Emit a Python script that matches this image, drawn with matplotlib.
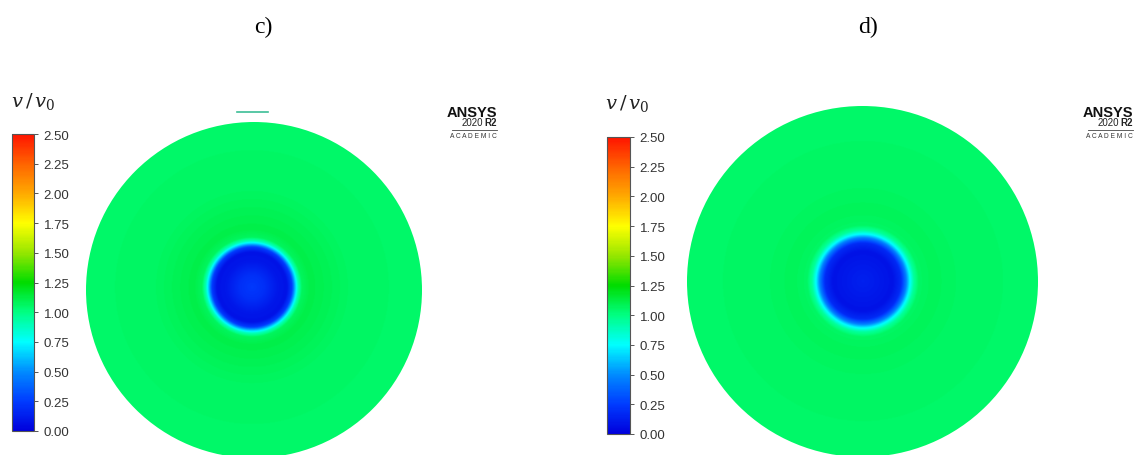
import numpy as np
import matplotlib
matplotlib.use("Agg")
import matplotlib.pyplot as plt
from matplotlib.colors import LinearSegmentedColormap, Normalize
from matplotlib.patches import Circle
from matplotlib.cm import ScalarMappable

# ---------------- data ----------------
panel_titles = ["c)", "d)"]
cbar_label = r"$v\,/\,v_0$"
vmin, vmax = 0.0, 2.5
tick_values = [0.00, 0.25, 0.50, 0.75, 1.00, 1.25, 1.50, 1.75, 2.00, 2.25, 2.50]
tick_labels = ["0.00", "0.25", "0.50", "0.75", "1.00", "1.25", "1.50", "1.75", "2.00", "2.25", "2.50"]

# radial profiles of v/v0 measured from the centre of the low-velocity core (pixels)
radius_c = [0, 12, 26, 35, 40, 43, 46, 50, 58, 75, 100, 170]
speed_c = [0.24, 0.20, 0.10, 0.08, 0.25, 0.60, 0.88, 1.07, 1.11, 1.09, 1.06, 1.05]
radius_d = [0, 15, 30, 38, 43, 47, 51, 56, 70, 100, 176]
speed_d = [0.14, 0.11, 0.08, 0.18, 0.45, 0.75, 0.95, 1.06, 1.08, 1.06, 1.05]

# colormap (ANSYS rainbow)
cmap_pos = [0.0, 0.1, 0.2, 0.3, 0.4, 0.5, 0.6, 0.7, 0.8, 0.9, 1.0]
cmap_rgb = [(0, 0, 220), (0, 60, 255), (0, 140, 255), (0, 255, 255), (0, 255, 130),
            (0, 220, 0), (150, 230, 0), (255, 255, 0), (255, 170, 0), (255, 100, 0), (255, 20, 0)]

W, H = 1137, 456
fig = plt.figure(figsize=(W / 100, H / 100), dpi=100)
fig.patch.set_facecolor("white")
plt.rcParams["mathtext.fontset"] = "dejavuserif"

cmap = LinearSegmentedColormap.from_list(
    "ansys", [(p, tuple(c / 255 for c in rgb)) for p, rgb in zip(cmap_pos, cmap_rgb)])
norm = Normalize(vmin, vmax)


def px_axes(x0, y0, x1, y1):
    return fig.add_axes([x0 / W, 1 - y1 / H, (x1 - x0) / W, (y1 - y0) / H])


def draw_panel(box, radius, core_offset, prof_r, prof_v):
    ax = px_axes(*box)
    n = 500
    g = np.linspace(-radius, radius, n)
    X, Y = np.meshgrid(g, g)
    r = np.hypot(X - core_offset[0], Y - core_offset[1])
    V = np.interp(r, prof_r, prof_v)
    im = ax.imshow(V, extent=[-radius, radius, -radius, radius], origin="lower",
                   cmap=cmap, norm=norm, interpolation="bilinear")
    clip = Circle((0, 0), radius, transform=ax.transData)
    im.set_clip_path(clip)
    ax.set_xlim(-radius, radius)
    ax.set_ylim(-radius, radius)
    ax.set_aspect("equal")
    ax.axis("off")
    return ax


def draw_cbar(box):
    cax = px_axes(*box)
    sm = ScalarMappable(norm=norm, cmap=cmap)
    cb = fig.colorbar(sm, cax=cax, orientation="vertical")
    cb.set_ticks(tick_values)
    cb.set_ticklabels(tick_labels)
    cb.outline.set_edgecolor("#555555")
    cb.outline.set_linewidth(0.8)
    cax.tick_params(axis="y", direction="out", length=3, width=0.7, color="#555555",
                    labelsize=9.5, labelcolor="#333333", pad=4)
    for t in cax.get_yticklabels():
        t.set_fontfamily("Liberation Sans")
    return cax


def ansys_logo(xr, ytop):
    fx = lambda x: x / W
    fy = lambda y: 1 - y / H
    fig.text(fx(xr), fy(ytop + 7), "ANSYS", ha="right", va="center", fontsize=10.5,
             fontweight="bold", family="Liberation Sans", color="#111111")
    fig.text(fx(xr - 14), fy(ytop + 17), "2020", ha="right", va="center", fontsize=7,
             family="Liberation Sans", color="#222222")
    fig.text(fx(xr), fy(ytop + 17), "R2", ha="right", va="center", fontsize=7,
             fontweight="bold", family="Liberation Sans", color="#222222")
    fig.add_artist(plt.Line2D([fx(xr - 45), fx(xr)], [fy(ytop + 24.5), fy(ytop + 24.5)],
                              color="#444444", lw=0.6))
    fig.text(fx(xr), fy(ytop + 30), "A C A D E M I C", ha="right", va="center",
             fontsize=4.8, family="Liberation Sans", color="#333333")


# panel c
ax_c = draw_panel((86, 123, 422, 459), 168, (-2, 3), radius_c, speed_c)
ax_c.plot([-17, 14], [178, 178], color=(60 / 255, 190 / 255, 150 / 255), lw=1.2,
          clip_on=False)
draw_cbar((12, 135, 34, 432))
fig.text(33 / W, 1 - 101 / H, cbar_label, ha="center", va="center", fontsize=14,
         color="#222222")
ansys_logo(497, 106)
fig.text(263 / W, 1 - 27 / H, panel_titles[0], ha="center", va="center", fontsize=17,
         family="Liberation Serif", color="black")

# panel d
draw_panel((687, 107, 1038, 458), 175.5, (0.5, 0.5), radius_d, speed_d)
draw_cbar((607, 138, 630, 435))
fig.text(627 / W, 1 - 104 / H, cbar_label, ha="center", va="center", fontsize=14,
         color="#222222")
ansys_logo(1133, 106)
fig.text(868 / W, 1 - 27 / H, panel_titles[1], ha="center", va="center", fontsize=17,
         family="Liberation Serif", color="black")

fig.savefig("out.png", dpi=100, facecolor="white")
